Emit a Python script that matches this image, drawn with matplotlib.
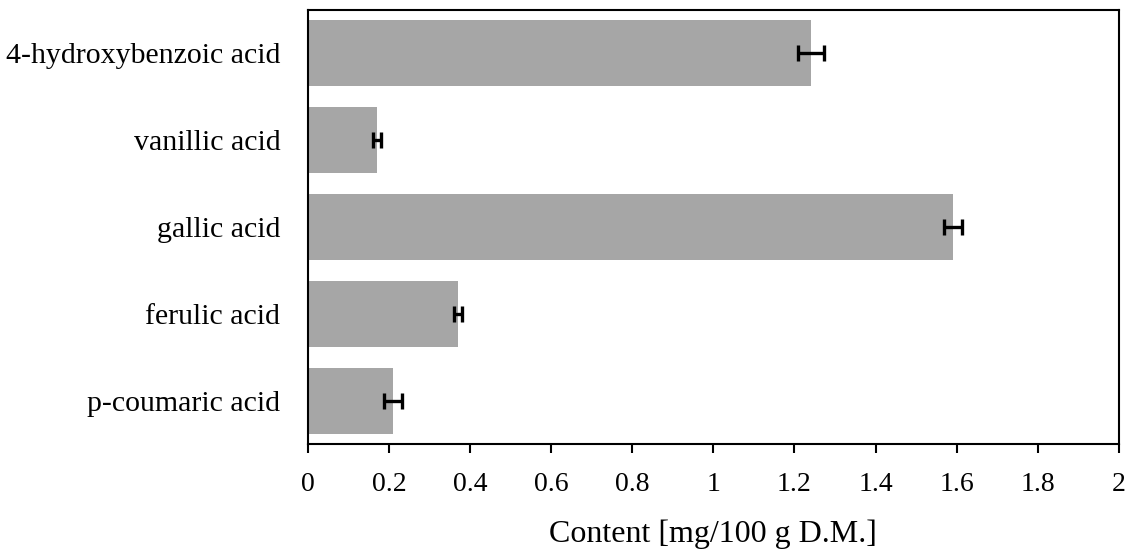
import matplotlib
matplotlib.use("Agg")
import matplotlib.pyplot as plt

# phenolic acid content
acids = ["4-hydroxybenzoic acid", "vanillic acid", "gallic acid", "ferulic acid", "p-coumaric acid"]
content = [1.24, 0.17, 1.59, 0.37, 0.21]
errors = [0.032, 0.01, 0.022, 0.01, 0.022]
xticks = [0, 0.2, 0.4, 0.6, 0.8, 1, 1.2, 1.4, 1.6, 1.8, 2]
xticklabels = ["0", "0.2", "0.4", "0.6", "0.8", "1", "1.2", "1.4", "1.6", "1.8", "2"]

plt.rcParams["font.family"] = ["Liberation Serif", "DejaVu Serif"]

fig = plt.figure(figsize=(11.34, 5.58), dpi=100)
ax = fig.add_axes([0.2716, 0.2043, 0.715, 0.7777])

pos = list(range(len(acids)))
ax.barh(pos, content, height=0.76, color="#a6a6a6",
        xerr=errors, error_kw=dict(ecolor="black", elinewidth=2.4, capsize=5.5, capthick=2.4))

ax.set_ylim(len(acids) - 0.5, -0.5)
ax.set_xlim(0, 2)
ax.set_yticks(pos)
ax.set_yticklabels(acids, fontsize=21.5)
ax.set_xticks(xticks)
ax.set_xticklabels(xticklabels, fontsize=20)
ax.tick_params(axis="y", length=0, pad=20)
ax.tick_params(axis="x", direction="out", length=6.5, width=1.5, pad=14)
for sp in ax.spines.values():
    sp.set_linewidth(1.5)
ax.set_xlabel("Content [mg/100 g D.M.]", fontsize=23, labelpad=16)

fig.savefig("out.png", dpi=100)
plt.close(fig)
